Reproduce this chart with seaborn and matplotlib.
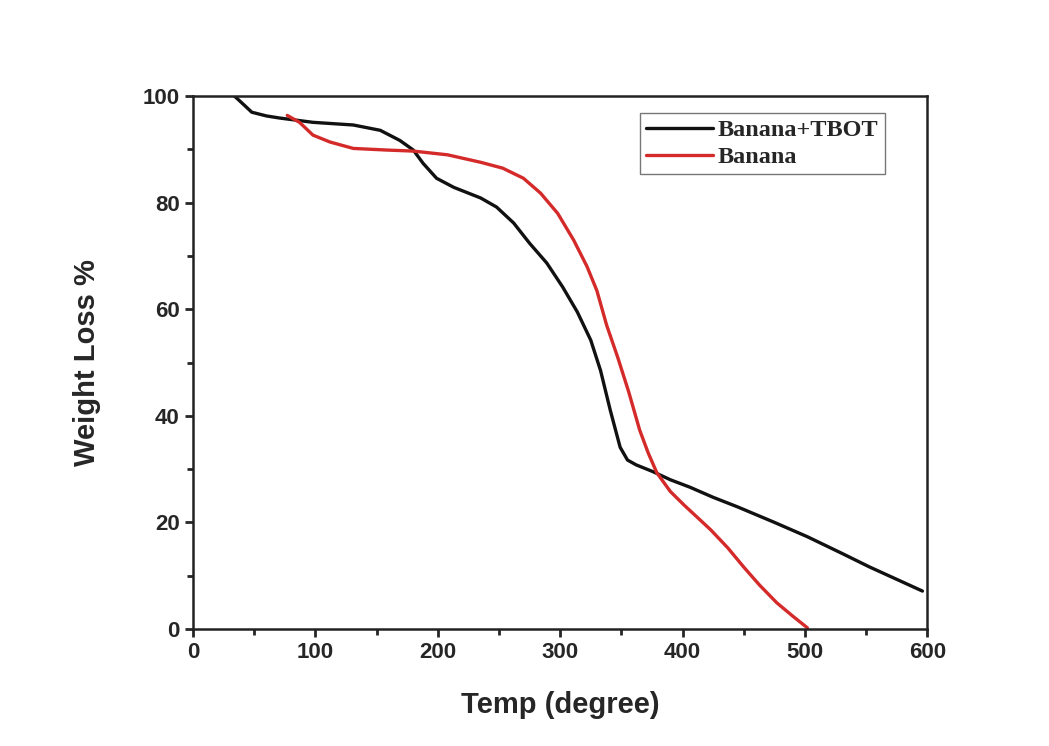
import numpy as np
import pandas as pd
import seaborn as sns
import matplotlib.pyplot as plt
from matplotlib.ticker import MultipleLocator

# Curvas TGA
temp_tbot = [34, 42, 48, 60, 71, 98, 131, 153, 169, 180, 188, 199, 213, 235, 248, 262,
             275, 289, 302, 314, 325, 333, 341, 349, 355, 362, 376, 390, 406, 425, 445,
             475, 502, 530, 553, 575, 596]
peso_tbot = [100, 98.3, 97, 96.3, 95.9, 95.1, 94.6, 93.6, 91.7, 89.9, 87.4, 84.6, 82.9,
             80.9, 79.2, 76.2, 72.4, 68.7, 64.2, 59.5, 54.2, 48.5, 41, 34.1, 31.7, 30.8,
             29.5, 28, 26.6, 24.7, 22.9, 20, 17.3, 14.2, 11.6, 9.3, 7.1]

temp_banana = [77, 87, 98, 112, 131, 158, 180, 208, 235, 253, 270, 284, 298, 311, 322,
               330, 338, 347, 356, 365, 372, 379, 390, 401, 423, 437, 450, 463, 477, 490,
               502]
peso_banana = [96.4, 95.1, 92.7, 91.4, 90.2, 89.9, 89.7, 89.0, 87.6, 86.5, 84.6, 81.8,
               78, 73, 68, 63.5, 57, 51, 44.5, 37.3, 33, 29.3, 25.8, 23.3, 18.6, 15.2,
               11.6, 8.2, 4.9, 2.4, 0.2]

series = ["Banana+TBOT", "Banana"]
colores = {"Banana+TBOT": "#111111", "Banana": "#d42a2a"}

datos = pd.concat([
    pd.DataFrame({"temp": temp_tbot, "peso": peso_tbot, "muestra": series[0]}),
    pd.DataFrame({"temp": temp_banana, "peso": peso_banana, "muestra": series[1]}),
])

sns.set_style("ticks")
plt.rcParams['font.family'] = ['Liberation Sans', 'DejaVu Sans']

fig = plt.figure(figsize=(10.49, 7.46), dpi=100)
ax = fig.add_axes([0.184, 0.157, 0.700, 0.714])

sns.lineplot(data=datos, x="temp", y="peso", hue="muestra", hue_order=series,
             palette=colores, linewidth=2.4, sort=False, estimator=None, ax=ax)

ax.set_xlim(0, 600)
ax.set_ylim(0, 100)
ax.xaxis.set_major_locator(MultipleLocator(100))
ax.xaxis.set_minor_locator(MultipleLocator(50))
ax.yaxis.set_major_locator(MultipleLocator(20))
ax.yaxis.set_minor_locator(MultipleLocator(10))
ax.tick_params(which="major", direction="out", length=6, width=2, labelsize=16)
ax.tick_params(which="minor", direction="out", length=4, width=2)
for lab in ax.get_xticklabels() + ax.get_yticklabels():
    lab.set_fontweight("bold")
for s in ax.spines.values():
    s.set_linewidth(1.8)
    s.set_color("#222222")

ax.set_xlabel("Temp (degree)", fontsize=21, fontweight="bold", labelpad=20)
ax.set_ylabel("Weight Loss %", fontsize=21, fontweight="bold", labelpad=30)

leg = ax.legend(loc="upper left", bbox_to_anchor=(0.609, 0.968), frameon=True,
                fancybox=False, edgecolor="#555555", handlelength=2.75,
                handletextpad=0.2, borderpad=0.25, labelspacing=0.2,
                borderaxespad=0,
                prop={"family": "Liberation Serif", "weight": "bold", "size": 17.5})
leg.get_frame().set_linewidth(1.0)

plt.savefig("out.png", dpi=100)
plt.close()
